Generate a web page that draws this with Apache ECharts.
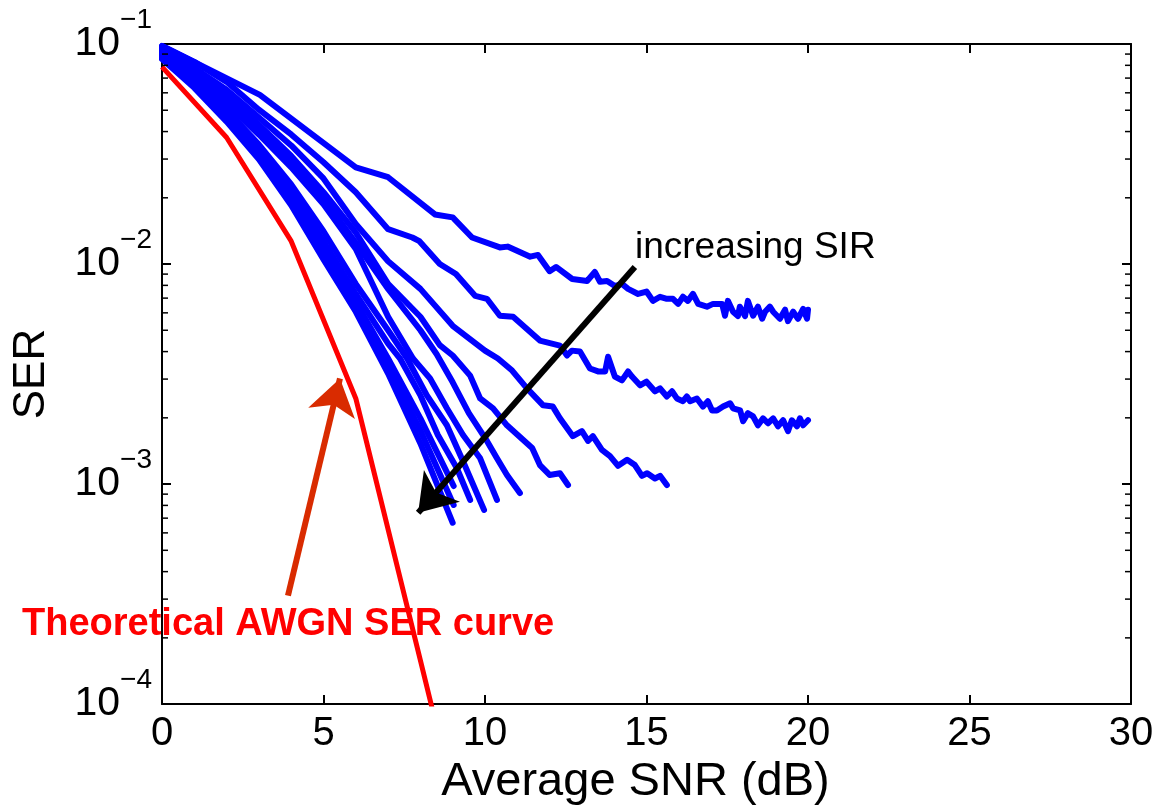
<!DOCTYPE html>
<html>
<head>
<meta charset="utf-8">
<script src="https://cdn.jsdelivr.net/npm/echarts@6/dist/echarts.min.js"></script>
<style>
  html, body { margin: 0; padding: 0; background: #fff; }
  #chart { width: 1158px; height: 811px; }
</style>
</head>
<body>
<div id="chart"></div>
<script>
// x axis (SNR, dB) and y axis (SER, log) ranges
const snrTicks = [0, 5, 10, 15, 20, 25, 30];
const serDecades = [0.0001, 0.001, 0.01, 0.1];
const serMinorTicks = [
  0.0002, 0.0003, 0.0004, 0.0005, 0.0006, 0.0007, 0.0008, 0.0009,
  0.002, 0.003, 0.004, 0.005, 0.006, 0.007, 0.008, 0.009,
  0.02, 0.03, 0.04, 0.05, 0.06, 0.07, 0.08, 0.09
];

// theoretical AWGN curve
const awgn = [[0, 0.0787], [2, 0.0376], [4, 0.0127], [6, 0.00245], [8, 0.000158], [10, 0.00001]];

// simulated curves, lowest SIR first
const sim1 = [[0, 0.098], [3.03, 0.0587], [6.0, 0.0275], [7.0, 0.0248], [8.45, 0.0168], [9.0, 0.0163],
  [9.6, 0.0132], [10.46, 0.0119], [10.7, 0.0120], [11.4, 0.0108], [11.64, 0.0110], [12.0, 0.00928],
  [12.2, 0.0097], [12.7, 0.00855], [13.16, 0.00837], [13.4, 0.0092], [13.56, 0.00831], [13.78, 0.00837],
  [14.02, 0.00794], [14.24, 0.00812], [14.43, 0.00771], [14.74, 0.00731], [15.0, 0.0075], [15.2, 0.0068],
  [15.42, 0.0071], [15.63, 0.00695], [15.82, 0.00695], [15.98, 0.00659], [16.13, 0.0071], [16.28, 0.0068],
  [16.44, 0.00732], [16.6, 0.00659], [16.87, 0.0064], [17.06, 0.00659], [17.34, 0.00659], [17.43, 0.00582],
  [17.52, 0.0068], [17.68, 0.00607], [17.83, 0.0058], [17.89, 0.0064], [18.05, 0.0058], [18.14, 0.0068],
  [18.3, 0.00582], [18.45, 0.0064], [18.58, 0.00564], [18.67, 0.00607], [18.82, 0.0064], [18.92, 0.00607],
  [19.13, 0.00564], [19.29, 0.0062], [19.38, 0.0055], [19.54, 0.00607], [19.69, 0.00564], [19.85, 0.00626],
  [19.97, 0.00564], [20.0, 0.0062]];
const sim2 = [[0, 0.0979], [1, 0.0829], [2, 0.0673], [3, 0.0503], [4, 0.0388], [5, 0.0290], [6, 0.0212],
  [7, 0.0144], [7.75, 0.0132], [7.97, 0.0127], [8.6, 0.0100], [9.1, 0.00901], [9.7, 0.00716], [10.06, 0.00695],
  [10.46, 0.00582], [10.87, 0.00576], [11.7, 0.00449], [12.32, 0.00426], [12.54, 0.00384], [12.69, 0.00404],
  [12.94, 0.00400], [13.25, 0.00335], [13.5, 0.00325], [13.72, 0.00325], [13.81, 0.00379], [14.02, 0.00308],
  [14.24, 0.00296], [14.43, 0.00325], [14.55, 0.00308], [14.8, 0.00281], [15.0, 0.00292], [15.26, 0.00264],
  [15.42, 0.00272], [15.63, 0.00250], [15.79, 0.00264], [15.94, 0.00245], [16.13, 0.00238], [16.25, 0.00250],
  [16.35, 0.00238], [16.56, 0.00245], [16.75, 0.00225], [16.9, 0.00238], [17.03, 0.00216], [17.18, 0.00216],
  [17.37, 0.00225], [17.59, 0.00233], [17.68, 0.00221], [17.9, 0.00216], [17.99, 0.00193], [18.14, 0.00210],
  [18.3, 0.00203], [18.45, 0.00185], [18.61, 0.00199], [18.76, 0.00189], [18.92, 0.00199], [19.07, 0.00183],
  [19.23, 0.00195], [19.38, 0.00174], [19.5, 0.00195], [19.66, 0.00183], [19.75, 0.00199], [19.85, 0.00185],
  [20.0, 0.00195]];
const sim3 = [[0, 0.0959], [1, 0.0779], [2, 0.0619], [3, 0.0463], [4, 0.0346], [5, 0.0245], [6, 0.0152],
  [7, 0.0103], [8, 0.00771], [9, 0.00524], [10, 0.00404], [10.4, 0.00372], [10.84, 0.00328], [11.3, 0.00272],
  [11.8, 0.00228], [12.1, 0.00225], [12.32, 0.00199], [12.72, 0.00165], [13.0, 0.00174], [13.19, 0.00157],
  [13.34, 0.00165], [13.62, 0.00143], [13.87, 0.00134], [14.12, 0.00121], [14.4, 0.00129], [14.64, 0.00122],
  [14.86, 0.00109], [15.02, 0.00112], [15.26, 0.00106], [15.42, 0.00109], [15.63, 0.00099]];
const sim4 = [[0, 0.0939], [1, 0.0747], [2, 0.0588], [3, 0.0430], [4, 0.0310], [5, 0.0212], [6, 0.0139],
  [7, 0.00812], [8, 0.00576], [8.6, 0.00428], [9.0, 0.00384], [9.54, 0.00311], [9.85, 0.00245],
  [10.25, 0.00221], [10.68, 0.00185], [11.46, 0.00146], [11.7, 0.00122], [12.0, 0.00110], [12.32, 0.00112],
  [12.57, 0.00099]];
const sim5 = [[0, 0.0920], [1, 0.0724], [2, 0.0558], [3, 0.0408], [4, 0.0292], [5, 0.0198], [6, 0.0125],
  [7, 0.0077], [8, 0.0050], [8.5, 0.0039], [9.0, 0.0029], [9.5, 0.0021], [10.06, 0.00157],
  [10.37, 0.00131], [10.68, 0.00110], [11.08, 0.00091]];
const sim6 = [[0, 0.0911], [1, 0.0702], [2, 0.0535], [3, 0.0388], [4, 0.0275], [5, 0.0187], [6, 0.0117],
  [7, 0.00576], [7.77, 0.00372], [8.3, 0.00302], [8.82, 0.00221], [9.32, 0.00167], [9.85, 0.00131],
  [10.37, 0.000847]];
const sim7 = [[0, 0.0892], [1, 0.0687], [2, 0.0503], [3, 0.0349], [4, 0.0230], [5, 0.0141], [6, 0.00812],
  [7, 0.0050], [7.59, 0.00372], [8.2, 0.00253], [8.82, 0.00185], [9.32, 0.00127], [9.97, 0.000763]];
const sim8 = [[0, 0.0882], [1, 0.0673], [2, 0.0488], [3, 0.0331], [4, 0.0214], [5, 0.0127], [6, 0.00731],
  [7, 0.00435], [7.37, 0.00372], [8, 0.00253], [8.54, 0.00167], [9.13, 0.00118], [9.54, 0.000847]];
const sim9 = [[0, 0.0873], [1, 0.0659], [2, 0.0472], [3, 0.0321], [4, 0.0201], [5, 0.0117], [6, 0.00673],
  [7, 0.00372], [8, 0.00199], [9.03, 0.00098]];
const sim10 = [[0, 0.0864], [1, 0.0646], [2, 0.0458], [3, 0.0311], [4, 0.0193], [5, 0.0111], [6, 0.00639],
  [7, 0.00342], [8, 0.00175], [9.03, 0.000804]];
const sim11 = [[0, 0.0855], [1, 0.0632], [2, 0.0444], [3, 0.0299], [4, 0.0185], [5, 0.0105], [6, 0.00607],
  [7, 0.00318], [8, 0.00153], [9.0, 0.000667]];
const simCurves = [sim1, sim2, sim3, sim4, sim5, sim6, sim7, sim8, sim9, sim10, sim11];

// annotation arrows [tail, head]
const sirArrow = [[14.64, 0.00969], [7.93, 0.00074]];
const awgnArrow = [[3.90, 0.000311], [5.51, 0.00302]];

const FONT = "'Liberation Sans', Arial, Helvetica, sans-serif";
const chart = echarts.init(document.getElementById('chart'), null, { renderer: 'canvas' });

const tickStyle = { show: true, inside: true, length: 9, lineStyle: { color: '#000', width: 2 } };
// onZero off, otherwise the right-hand axis gets pulled onto x = 0
const lineAxis = { show: true, onZero: false, lineStyle: { color: '#000', width: 2 } };

const series = simCurves.map(function (d) {
  return {
    type: 'line', data: d, showSymbol: false, symbol: 'none', animation: false,
    lineStyle: { color: '#0000ff', width: 6, join: 'round', cap: 'round' },
    itemStyle: { color: '#0000ff' }, z: 3
  };
});
series.push({
  type: 'line', data: awgn, showSymbol: false, symbol: 'none', animation: false,
  lineStyle: { color: '#ff0000', width: 5, join: 'round' }, z: 4
});
// minor ticks of the log axis, on both sides of the box
series.push({
  type: 'custom', coordinateSystem: 'cartesian2d', animation: false, silent: true, clip: false, z: 8,
  data: serMinorTicks.map(function (v) { return [snrTicks[0], v]; }),
  encode: { x: 0, y: 1 },
  renderItem: function (params, api) {
    const l = api.coord([snrTicks[0], api.value(1)]);
    const r = api.coord([snrTicks[snrTicks.length - 1], api.value(1)]);
    const st = { stroke: '#000', lineWidth: 1.5 };
    return {
      type: 'group', children: [
        { type: 'line', shape: { x1: l[0], y1: l[1], x2: l[0] + 6, y2: l[1] }, style: st },
        { type: 'line', shape: { x1: r[0] - 6, y1: r[1], x2: r[0], y2: r[1] }, style: st }
      ]
    };
  }
});
series.push({
  type: 'lines', coordinateSystem: 'cartesian2d', animation: false, silent: true, z: 6,
  symbol: ['none', 'arrow'], symbolSize: [26, 36],
  lineStyle: { color: '#000', width: 6, opacity: 1, curveness: 0 },
  data: [{ coords: sirArrow }]
});
series.push({
  type: 'lines', coordinateSystem: 'cartesian2d', animation: false, silent: true, z: 6,
  symbol: ['none', 'arrow'], symbolSize: [22, 36],
  lineStyle: { color: '#d92b00', width: 6, opacity: 1, curveness: 0 },
  data: [{ coords: awgnArrow }]
});

chart.setOption({
  animation: false,
  backgroundColor: '#fff',
  textStyle: { fontFamily: FONT },
  grid: { left: 162, right: 27, top: 44, bottom: 104, containLabel: false },
  xAxis: [
    {
      type: 'value', position: 'bottom', min: snrTicks[0], max: snrTicks[snrTicks.length - 1], interval: 5,
      axisLine: lineAxis, axisTick: tickStyle, splitLine: { show: false },
      axisLabel: { color: '#000', fontSize: 40, fontFamily: FONT, margin: 10 },
      name: 'Average SNR (dB)', nameLocation: 'middle', nameGap: 50,
      nameTextStyle: { color: '#000', fontSize: 47, fontFamily: FONT, padding: [0, 22, 0, 0] }
    },
    {
      type: 'value', position: 'top', min: snrTicks[0], max: snrTicks[snrTicks.length - 1], interval: 5,
      axisLine: lineAxis, axisTick: tickStyle, axisLabel: { show: false }, splitLine: { show: false }
    }
  ],
  yAxis: [
    {
      type: 'log', logBase: 10, position: 'left', min: serDecades[0], max: serDecades[serDecades.length - 1],
      axisLine: lineAxis, axisTick: tickStyle, splitLine: { show: false },
      axisLabel: {
        margin: 10, color: '#000',
        formatter: function (v) {
          const e = Math.round(Math.log10(v));
          return '{b|10}{s|\u2212' + Math.abs(e) + '}';
        },
        rich: {
          b: { fontSize: 41, lineHeight: 76, fontFamily: FONT, color: '#000' },
          s: { fontSize: 28, lineHeight: 28, verticalAlign: 'top', fontFamily: FONT, color: '#000' }
        }
      },
      name: 'SER', nameLocation: 'middle', nameGap: 108, nameRotate: 90,
      nameTextStyle: { color: '#000', fontSize: 44, fontFamily: FONT }
    },
    {
      type: 'log', logBase: 10, position: 'right', min: serDecades[0], max: serDecades[serDecades.length - 1],
      axisLine: lineAxis, axisTick: tickStyle, axisLabel: { show: false }, splitLine: { show: false }
    }
  ],
  graphic: [
    {
      type: 'text', left: 635, top: 229, silent: true,
      style: { text: 'increasing SIR', fill: '#000', font: "37px 'Liberation Sans', Arial, sans-serif" }
    },
    {
      type: 'text', left: 22, top: 606, silent: true,
      style: { text: 'Theoretical AWGN SER curve', fill: '#ff0000', font: "bold 38px 'Liberation Sans', Arial, sans-serif" }
    }
  ],
  series: series
});
</script>
</body>
</html>
